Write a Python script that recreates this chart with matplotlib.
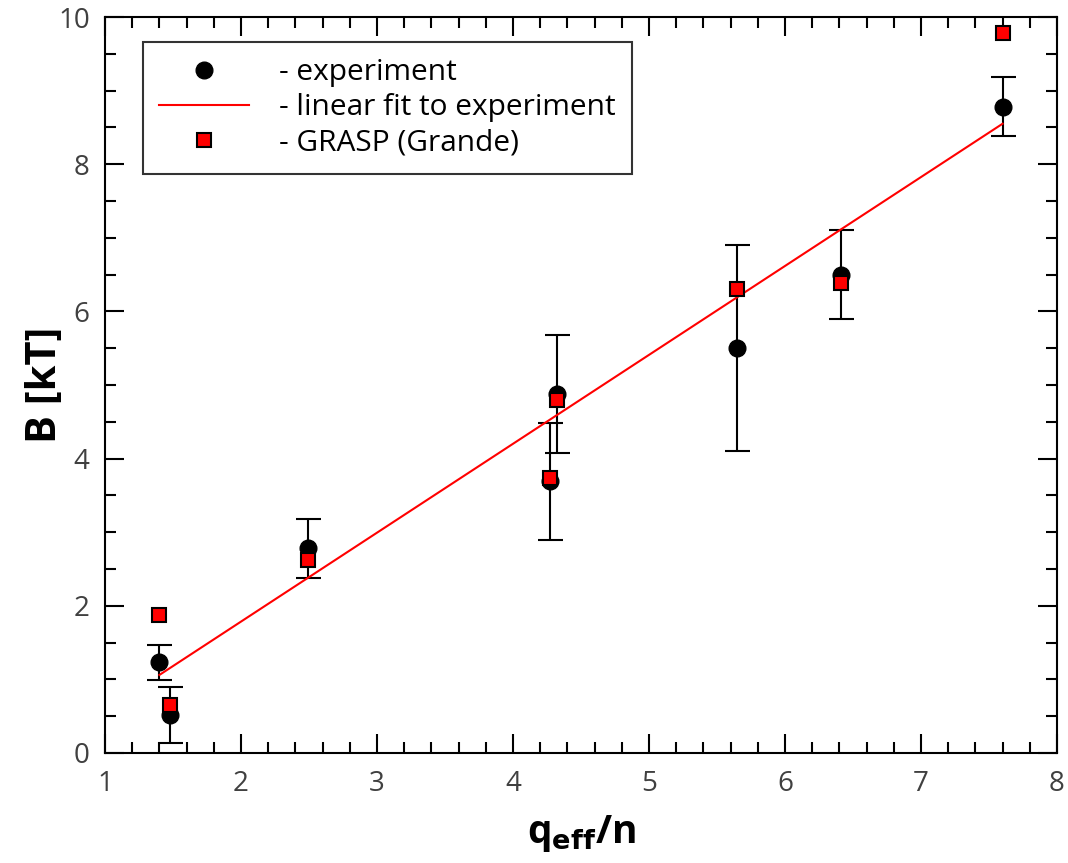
import numpy as np
import matplotlib
matplotlib.use("Agg")
from matplotlib import pyplot as plt

plt.rcParams['font.family'] = ['Open Sans', 'DejaVu Sans']

# experiment: q_eff/n, B [kT], error
q_exp = [1.40, 1.48, 2.49, 4.27, 4.32, 5.65, 6.41, 7.60]
b_exp = [1.23, 0.52, 2.78, 3.69, 4.88, 5.50, 6.50, 8.78]
b_err = [0.24, 0.38, 0.40, 0.80, 0.80, 1.40, 0.60, 0.40]

# GRASP (Grande)
q_grasp = [1.40, 1.48, 2.49, 4.27, 4.32, 5.65, 6.41, 7.60]
b_grasp = [1.87, 0.65, 2.62, 3.74, 4.80, 6.30, 6.38, 9.78]

# linear fit to experiment (end points)
q_fit = [1.40, 7.60]
b_fit = [1.06, 8.55]

fig = plt.figure(figsize=(10.68, 8.63), dpi=100)
ax = fig.add_axes([0.0983, 0.1275, 0.8914, 0.8528])

ax.errorbar(q_exp, b_exp, yerr=b_err, fmt='none', ecolor='black',
            elinewidth=1.5, capsize=9, capthick=1.5, zorder=2)
ax.plot(q_exp, b_exp, 'o', color='black', ms=12, ls='none',
        label='- experiment', zorder=3)
ax.plot(q_fit, b_fit, '-', color='red', lw=1.5,
        label='- linear fit to experiment', zorder=4)
ax.plot(q_grasp, b_grasp, 's', mfc='red', mec='black', mew=1.5, ms=10.5,
        ls='none', label='- GRASP (Grande)', zorder=5)

ax.set_xlim(1, 8)
ax.set_ylim(0, 10)
ax.set_xticks(np.arange(1, 9, 1))
ax.set_xticks(np.arange(1, 8.01, 0.2), minor=True)
ax.set_yticks(np.arange(0, 11, 2))
ax.set_yticks(np.arange(0, 10.01, 0.5), minor=True)

ax.tick_params(which='both', direction='in', top=True, right=True,
               labelsize=20, labelcolor='#404040')
ax.tick_params(axis='x', pad=12)
ax.tick_params(axis='y', pad=11)
ax.tick_params(which='major', length=14, width=1.5)
ax.tick_params(which='minor', length=8, width=1.5)
for s in ax.spines.values():
    s.set_linewidth(1.5)

ax.set_xlabel(r'q$_\mathbf{eff}$/n', fontsize=28, fontweight='bold', labelpad=11)
ax.set_ylabel('B [kT]', fontsize=30, fontweight='bold', labelpad=-6)

leg = ax.legend(loc='upper left', bbox_to_anchor=(0.04, 0.966), borderaxespad=0,
                fontsize=21.5, frameon=True, fancybox=False, edgecolor='black',
                handlelength=3, handletextpad=1.0, labelspacing=0.2,
                borderpad=0.55)
leg.get_frame().set_linewidth(1.5)

plt.savefig('out.png', dpi=100)
